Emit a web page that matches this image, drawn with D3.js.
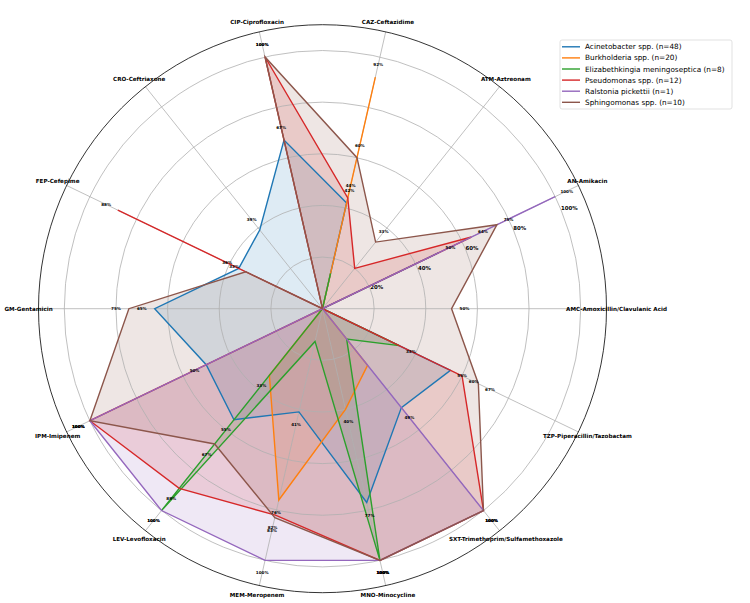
<!DOCTYPE html>
<html>
<head>
<meta charset="utf-8">
<script src="https://cdn.jsdelivr.net/npm/d3@7.9.0/dist/d3.min.js"></script>
<style>
  body { margin: 0; background: #fff; }
  svg { font-family: "DejaVu Sans", sans-serif; }
</style>
</head>
<body>
<svg id="chart" width="750" height="603"></svg>
<script>
// antibiotics, counter-clockwise from the right
const drugs = [
  'AMC-Amoxicillin/Clavulanic Acid', 'AN-Amikacin', 'ATM-Aztreonam', 'CAZ-Ceftazidime',
  'CIP-Ciprofloxacin', 'CRO-Ceftriaxone', 'FEP-Cefepime', 'GM-Gentamicin',
  'IPM-Imipenem', 'LEV-Levofloxacin', 'MEM-Meropenem', 'MNO-Minocycline',
  'SXT-Trimethoprim/Sulfamethoxazole', 'TZP-Piperacillin/Tazobactam'
];

const seriesNames = [
  'Acinetobacter spp. (n=48)', 'Burkholderia spp. (n=20)',
  'Elizabethkingia meningoseptica (n=8)', 'Pseudomonas spp. (n=12)',
  'Ralstonia pickettii (n=1)', 'Sphingomonas spp. (n=10)'
];

// percent values, same order as drugs
const acinetobacter   = [0, 50, 0, 42, 67, 39, 36, 65, 50, 55, 41, 77, 49, 55];
const burkholderia    = [0, 0, 0, 92, 0, 0, 0, 0, 0, 33, 76, 40, 28, 0];
const elizabethkingia = [0, 0, 0, 14, 0, 0, 0, 0, 0, 100, 13, 100, 15, 33];
const pseudomonas     = [0, 64, 20, 44, 100, 0, 88, 0, 100, 89, 82, 100, 100, 60];
const ralstonia       = [0, 100, 0, 0, 0, 0, 0, 0, 100, 100, 100, 100, 100, 0];
const sphingomonas    = [50, 75, 33, 60, 100, 0, 33, 75, 100, 67, 83, 100, 100, 67];

const rTicks = [20, 40, 60, 80, 100];
const colors = ['#1f77b4', '#ff7f0e', '#2ca02c', '#d62728', '#9467bd', '#8c564b'];

const allSeries = [acinetobacter, burkholderia, elizabethkingia, pseudomonas, ralstonia, sphingomonas];

const cx = 322.5, cy = 308.7, outerR = 284;
const svg = d3.select('#chart');
const g = svg.append('g').attr('transform', `translate(${cx},${cy})`);

const r = d3.scaleLinear().domain([0, 110]).range([0, outerR]);
const theta = d3.scaleLinear().domain([0, drugs.length]).range([0, 2 * Math.PI]);

// d3 radial angles run clockwise from 12 o'clock
const radialAngle = i => Math.PI / 2 - theta(i);
const px = (i, v) => r(v) * Math.cos(theta(i));
const py = (i, v) => -r(v) * Math.sin(theta(i));

const radarLine = d3.lineRadial()
  .angle((d, i) => radialAngle(i))
  .radius(d => r(d))
  .curve(d3.curveLinearClosed);

// fills first
allSeries.forEach((vals, s) => {
  g.append('path')
    .attr('d', radarLine(vals))
    .attr('fill', colors[s])
    .attr('fill-opacity', 0.15)
    .attr('stroke', 'none');
});

// grid
g.selectAll('.ring')
  .data(rTicks)
  .join('circle')
  .attr('r', d => r(d))
  .attr('fill', 'none')
  .attr('stroke', '#b0b0b0')
  .attr('stroke-width', 0.8);

g.selectAll('.spoke')
  .data(drugs)
  .join('line')
  .attr('x1', 0).attr('y1', 0)
  .attr('x2', (d, i) => px(i, 110))
  .attr('y2', (d, i) => py(i, 110))
  .attr('stroke', '#b0b0b0')
  .attr('stroke-width', 0.8);

g.append('circle')
  .attr('r', r(110))
  .attr('fill', 'none')
  .attr('stroke', '#000')
  .attr('stroke-width', 0.8);

// radial tick labels at 22.5 degrees
const rlabelAngle = 22.5 * Math.PI / 180;
g.selectAll('.rlabel')
  .data(rTicks)
  .join('text')
  .attr('x', d => r(d) * Math.cos(rlabelAngle))
  .attr('y', d => -r(d) * Math.sin(rlabelAngle))
  .attr('font-size', 5.4)
  .attr('font-weight', 'bold')
  .attr('text-anchor', 'start')
  .attr('dy', '0.1em')
  .text(d => d + '%');

// series lines
allSeries.forEach((vals, s) => {
  g.append('path')
    .attr('d', radarLine(vals))
    .attr('fill', 'none')
    .attr('stroke', colors[s])
    .attr('stroke-width', 1.4)
    .attr('stroke-linejoin', 'miter');
});

// value labels
allSeries.forEach(vals => {
  vals.forEach((v, i) => {
    if (v < 30) return;
    g.append('text')
      .attr('x', px(i, v + 5))
      .attr('y', py(i, v + 5))
      .attr('text-anchor', 'middle')
      .attr('dominant-baseline', 'central')
      .attr('font-size', 4.1)
      .attr('font-weight', 'bold')
      .text(v + '%');
  });
});

// category labels
g.selectAll('.cat')
  .data(drugs)
  .join('text')
  .attr('x', (d, i) => (outerR + 10) * Math.cos(theta(i)))
  .attr('y', (d, i) => -(outerR + 10) * Math.sin(theta(i)))
  .attr('text-anchor', 'middle')
  .attr('dominant-baseline', 'central')
  .attr('font-size', 5.6)
  .attr('font-weight', 'bold')
  .text(d => d);

// legend
const legend = svg.append('g').attr('transform', 'translate(560,40)');
legend.append('rect')
  .attr('width', 172).attr('height', 69)
  .attr('rx', 2)
  .attr('fill', '#fff').attr('fill-opacity', 0.8)
  .attr('stroke', '#d9d9d9').attr('stroke-width', 0.8);

seriesNames.forEach((name, s) => {
  const y = 6.8 + s * 11.1;
  legend.append('line')
    .attr('x1', 2).attr('x2', 20)
    .attr('y1', y).attr('y2', y)
    .attr('stroke', colors[s]).attr('stroke-width', 1.4);
  legend.append('text')
    .attr('x', 25).attr('y', y)
    .attr('dominant-baseline', 'central')
    .attr('font-size', 7.3)
    .attr('fill', '#000')
    .text(name);
});
</script>
</body>
</html>
